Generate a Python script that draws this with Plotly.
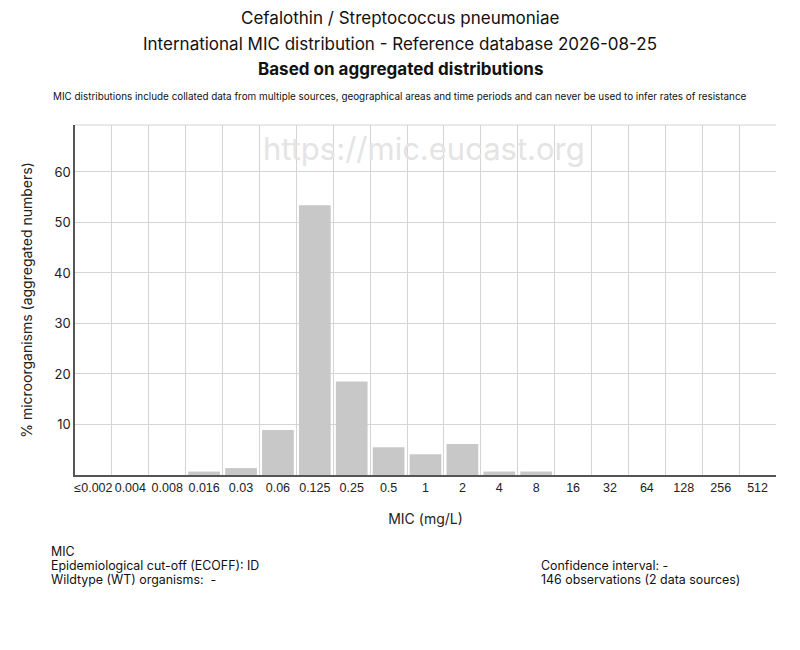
import plotly.graph_objects as go

# MIC categories (mg/L) and % of organisms (146 observations)
mic_labels = ["≤0.002", "0.004", "0.008", "0.016", "0.03", "0.06", "0.125", "0.25", "0.5",
              "1", "2", "4", "8", "16", "32", "64", "128", "256", "512"]
percent = [0, 0, 0, 0.68, 1.37, 8.9, 53.42, 18.49, 5.48,
           4.11, 6.16, 0.68, 0.68, 0, 0, 0, 0, 0, 0]
y_ticks = [10, 20, 30, 40, 50, 60]

FONT = "Inter"
GRID = "#d4d4d4"

fig = go.Figure(go.Bar(
    x=mic_labels,
    y=percent,
    marker=dict(color="#c8c8c8", line=dict(width=0)),
    hoverinfo="x+y",
))

fig.update_layout(
    width=800, height=650,
    margin=dict(l=75, r=24, t=125, b=175),
    paper_bgcolor="white", plot_bgcolor="white",
    font=dict(family=FONT, color="#222", size=13),
    bargap=0.14,
    showlegend=False,
)

fig.update_xaxes(
    type="category",
    tickson="boundaries",
    automargin=False,
    tickangle=0,
    showgrid=True, gridcolor=GRID, gridwidth=1,
    showline=True, linecolor="#555", linewidth=1.5,
    ticks="", tickfont=dict(family="Liberation Sans", size=12.5, color="#222"),
    title=dict(text="MIC (mg/L)", font=dict(size=14), standoff=20),
)
fig.update_yaxes(
    range=[0, 69.3],
    tickvals=y_ticks,
    automargin=False,
    showgrid=True, gridcolor=GRID, gridwidth=1,
    showline=True, linecolor="#555", linewidth=1.5,
    zeroline=False, ticks="", tickfont=dict(size=13, color="#222"),
    title=dict(text="% microorganisms (aggregated numbers)", font=dict(size=14), standoff=18),
)

# top frame line
fig.add_shape(type="line", xref="paper", yref="paper", x0=0, x1=1, y0=1, y1=1,
              line=dict(color=GRID, width=1))

# titles (positions in pixels -> paper coords; plot area is 701 x 350 px)
titles = [
    ("Cefalothin / Streptococcus pneumoniae", 18, 17),
    ("International MIC distribution - Reference database 2026-08-25", 44, 17),
    ("<b>Based on aggregated distributions</b>", 69, 17),
    ("MIC distributions include collated data from multiple sources, geographical areas and time periods and can never be used to infer rates of resistance", 96, 9.9),
]
for text, ypx, size in titles:
    fig.add_annotation(text=text, xref="paper", yref="paper", x=(400 - 75) / 701,
                       y=1 + (125 - ypx) / 350, xanchor="center", yanchor="middle",
                       showarrow=False, font=dict(size=size, color="#111"))

# watermark
fig.add_annotation(text="https://mic.eucast.org", xref="paper", yref="paper",
                   x=(424 - 75) / 701, y=1 - (148 - 125) / 350, showarrow=False,
                   font=dict(size=31, color="#e4e4e4"), xanchor="center", yanchor="middle")

# footer
footer_left = ["MIC", "Epidemiological cut-off (ECOFF): ID", "Wildtype (WT) organisms:  -"]
footer_right = ["Confidence interval: -", "146 observations (2 data sources)"]
for i, t in enumerate(footer_left):
    fig.add_annotation(text=t, xref="paper", yref="paper", x=(50 - 75) / 701,
                       y=-(551 + 14 * i - 475) / 350, xanchor="left", yanchor="middle",
                       showarrow=False, borderpad=0, font=dict(size=12.4, color="#111"))
for i, t in enumerate(footer_right):
    fig.add_annotation(text=t, xref="paper", yref="paper", x=(540 - 75) / 701,
                       y=-(565 + 14 * i - 475) / 350, xanchor="left", yanchor="middle",
                       showarrow=False, borderpad=0, font=dict(size=12.4, color="#111"))

fig.write_html("out.html", config={"displayModeBar": False},
               post_script="document.body.style.margin='0';")
